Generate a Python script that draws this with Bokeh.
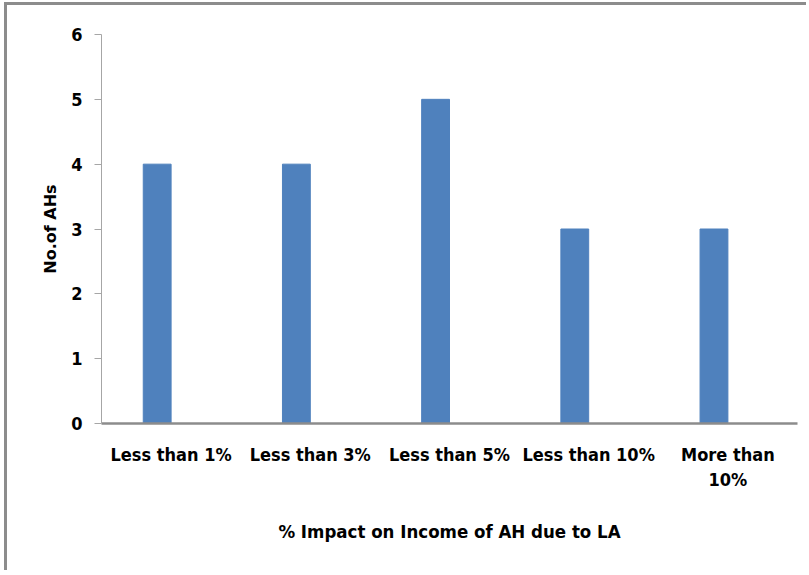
from bokeh.plotting import figure
from bokeh.models import ColumnDataSource, FactorRange, Range1d, FixedTicker
from bokeh.transform import dodge
from bokeh.embed import file_html
from bokeh.resources import INLINE

categories = ["Less than 1%", "Less than 3%", "Less than 5%", "Less than 10%", "More than\n10%"]
values = [4, 4, 5, 3, 3]
y_ticks = [0, 1, 2, 3, 4, 5, 6]
x_title = "% Impact on Income of AH due to LA"
y_title = "No.of AHs"

FONT = "DejaVu Sans Condensed"

source = ColumnDataSource(dict(cat=categories, val=values))

p = figure(width=802, height=568, output_backend="svg", toolbar_location=None,
           x_range=FactorRange(*categories, range_padding=0), y_range=Range1d(0, 6),
           min_border_left=94, min_border_right=12, min_border_top=29, min_border_bottom=150,
           styles={"border-top": "3px solid #8C8C8C", "border-left": "3px solid #8C8C8C",
                   "margin-top": "2px", "margin-left": "4px"})

p.vbar(x=dodge("cat", -0.1, range=p.x_range), top="val", width=0.2, source=source,
       fill_color="#4F81BD", line_color="#4F81BD")

p.xgrid.visible = False
p.ygrid.visible = False
p.outline_line_color = None
p.background_fill_color = "white"
p.border_fill_color = "white"

# x axis
xa = p.xaxis[0]
xa.axis_line_color = "#8C8C8C"
xa.axis_line_width = 2.5
xa.major_tick_line_color = None
xa.minor_tick_line_color = None
xa.major_tick_out = 0
xa.major_label_standoff = 20
xa.major_label_text_font = FONT
xa.major_label_text_font_style = "bold"
xa.major_label_text_font_size = "18px"
xa.major_label_text_color = "black"
xa.axis_label = x_title
xa.axis_label_text_font = FONT
xa.axis_label_text_font_style = "bold"
xa.axis_label_text_font_size = "18.5px"
xa.axis_label_text_color = "black"
xa.axis_label_standoff = 28

# y axis
ya = p.yaxis[0]
ya.ticker = FixedTicker(ticks=y_ticks)
ya.axis_line_color = "#A6A6A6"
ya.major_tick_line_color = "#A6A6A6"
ya.minor_tick_line_color = None
ya.major_tick_out = 7
ya.major_tick_in = 0
ya.major_label_standoff = 12
ya.major_label_text_font = FONT
ya.major_label_text_font_style = "bold"
ya.major_label_text_font_size = "18px"
ya.major_label_text_color = "black"
ya.axis_label = y_title
ya.axis_label_text_font = "DejaVu Sans"
ya.axis_label_text_font_style = "bold"
ya.axis_label_text_font_size = "16px"
ya.axis_label_text_color = "black"
ya.axis_label_standoff = 8

open("out.html", "w").write(file_html(p, INLINE))
